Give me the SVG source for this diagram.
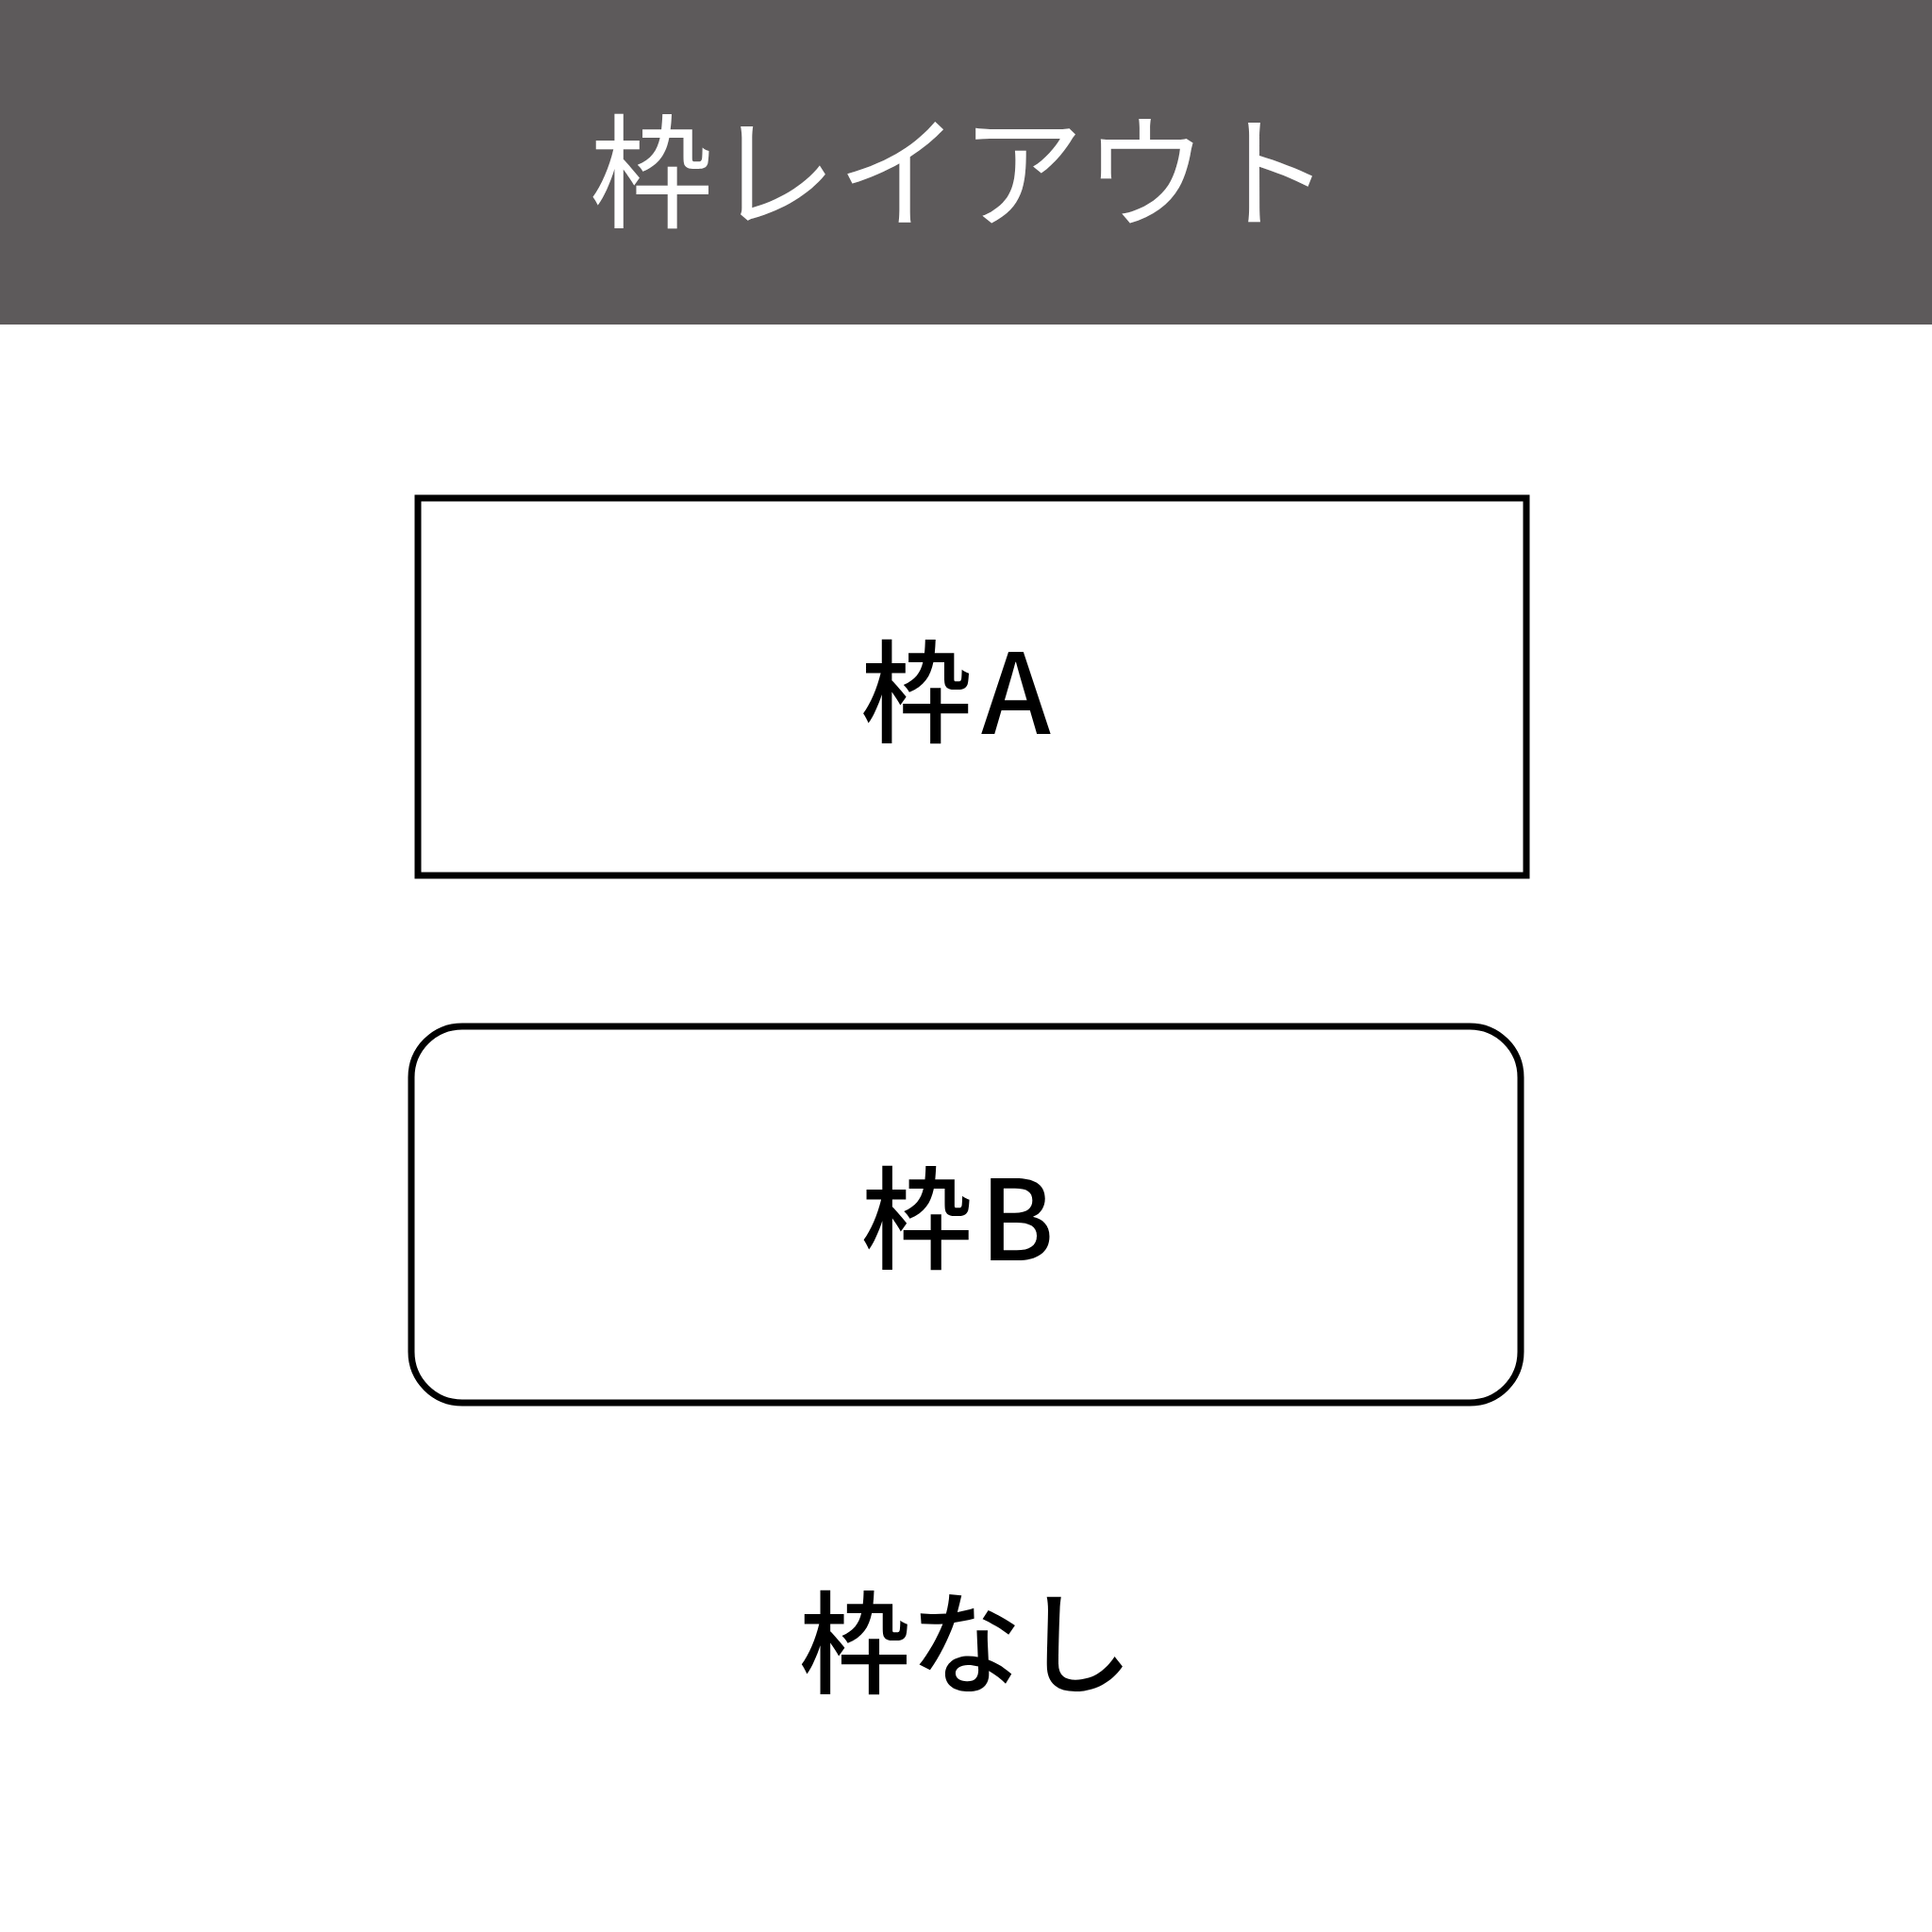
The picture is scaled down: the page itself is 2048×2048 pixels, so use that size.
<svg xmlns="http://www.w3.org/2000/svg" width="2048" height="2048" viewBox="0 0 2048 2048">
  <style>
    .frame { fill: #ffffff; stroke: #000000; stroke-width: 7; }
    .label { font-family: "Noto Sans CJK JP", "Noto Sans", sans-serif; font-size: 118px; font-weight: 500; fill: #000000; text-anchor: middle; }
    .title { font-family: "Noto Sans CJK JP", "Noto Sans", sans-serif; font-size: 131px; fill: #ffffff; text-anchor: middle; }
  </style>
  <rect width="2048" height="2048" fill="#ffffff"/>
  <g id="header">
    <rect x="0" y="0" width="2048" height="344" fill="#5d5a5b"/>
    <text class="title" x="1018" y="231">枠レイアウト</text>
  </g>
  <g id="frame-a">
    <rect class="frame" x="443" y="528" width="1175" height="400"/>
    <text class="label" x="1013" y="778">枠<tspan dx="10">A</tspan></text>
  </g>
  <g id="frame-b">
    <rect class="frame" x="436" y="1088" width="1176" height="399" rx="54" ry="54"/>
    <text class="label" x="1015" y="1336">枠<tspan dx="8">B</tspan></text>
  </g>
  <g id="no-frame">
    <text class="label" x="1024" y="1786">枠なし</text>
  </g>
  <g id="connectors"/>
</svg>
